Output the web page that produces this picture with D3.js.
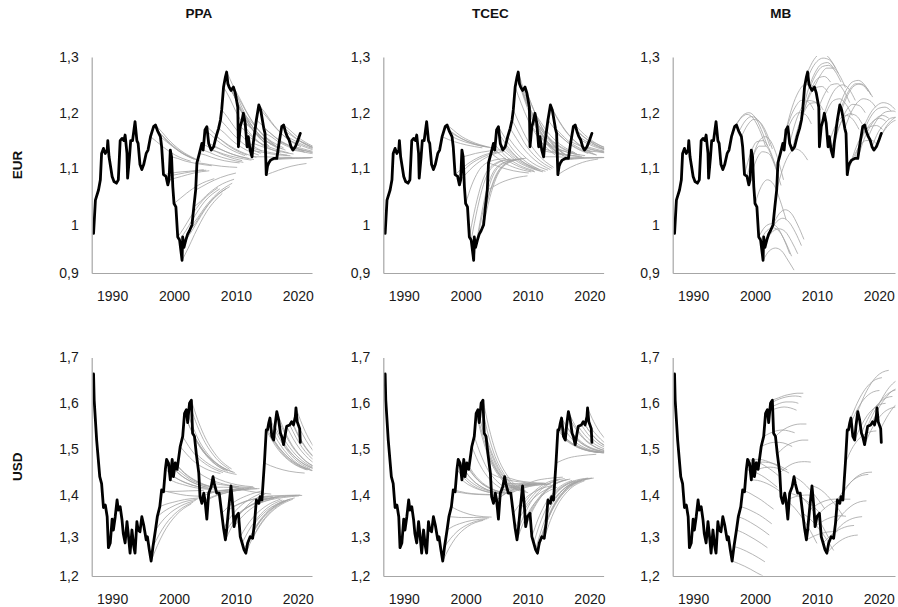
<!DOCTYPE html>
<html><head><meta charset="utf-8">
<script src="https://cdn.jsdelivr.net/npm/d3@7"></script>
<style>body{margin:0;background:#fff}svg{display:block}</style>
</head><body>
<svg id="c" width="898" height="607"></svg>
<script>
// ---------------- DATA ----------------
const columns = ["PPA", "TCEC", "MB"];
const rows = ["EUR", "USD"];
const eurTicks = [0.9, 1.0, 1.1, 1.2, 1.3];
const usdTicks = [1.2, 1.3, 1.4, 1.5, 1.6, 1.7];
const yearTicks = [1990, 2000, 2010, 2020];

// actual exchange rate [year, value]
const eurActual = [[1987.0,0.9825],[1987.3,1.044],[1987.8,1.062],[1988.1,1.08],[1988.3,1.127],[1988.6,1.136],[1988.9,1.127],[1989.2,1.133],[1989.3,1.15],[1989.5,1.121],[1990.0,1.086],[1990.3,1.077],[1990.7,1.074],[1991.0,1.08],[1991.3,1.15],[1991.6,1.154],[1991.9,1.15],[1992.1,1.16],[1992.4,1.127],[1992.5,1.083],[1992.8,1.12],[1993.0,1.15],[1993.3,1.15],[1993.7,1.184],[1994.0,1.15],[1994.2,1.145],[1994.5,1.107],[1994.8,1.098],[1995.1,1.107],[1995.5,1.127],[1995.8,1.133],[1996.2,1.157],[1996.7,1.175],[1997.0,1.178],[1997.4,1.166],[1997.8,1.157],[1998.0,1.139],[1998.3,1.089],[1998.7,1.086],[1999.0,1.071],[1999.2,1.08],[1999.4,1.133],[1999.6,1.121],[1999.8,1.068],[2000.0,1.038],[2000.3,1.032],[2000.6,0.975],[2000.9,0.9685],[2001.3,0.9265],[2001.4,0.975],[2001.6,0.9533],[2001.9,0.9685],[2002.2,0.981],[2002.5,0.988],[2002.9,1.0],[2003.2,1.032],[2003.5,1.062],[2003.7,1.11],[2004.1,1.127],[2004.5,1.145],[2004.7,1.133],[2005.0,1.169],[2005.3,1.175],[2005.6,1.145],[2006.0,1.133],[2006.4,1.139],[2006.8,1.157],[2007.2,1.172],[2007.5,1.187],[2007.7,1.205],[2008.0,1.246],[2008.3,1.264],[2008.5,1.273],[2008.7,1.252],[2008.9,1.246],[2009.2,1.24],[2009.6,1.246],[2009.9,1.235],[2010.3,1.21],[2010.4,1.139],[2010.7,1.175],[2011.0,1.187],[2011.2,1.199],[2011.5,1.181],[2011.8,1.139],[2012.0,1.157],[2012.3,1.133],[2012.6,1.121],[2012.8,1.145],[2013.3,1.187],[2013.7,1.214],[2014.0,1.205],[2014.5,1.172],[2014.7,1.163],[2014.9,1.089],[2015.1,1.104],[2015.3,1.11],[2015.6,1.115],[2016.1,1.118],[2016.6,1.118],[2017.0,1.148],[2017.4,1.175],[2017.7,1.178],[2018.0,1.166],[2018.3,1.157],[2018.6,1.151],[2018.9,1.139],[2019.2,1.133],[2019.6,1.139],[2020.0,1.15],[2020.4,1.163]];

const usdActual = [[1987.0,1.664],[1987.1,1.607],[1987.5,1.52],[1988.0,1.44],[1988.3,1.425],[1988.6,1.37],[1988.9,1.376],[1989.2,1.348],[1989.4,1.272],[1989.7,1.284],[1990.0,1.342],[1990.2,1.316],[1990.5,1.348],[1990.8,1.388],[1991.0,1.364],[1991.3,1.372],[1991.6,1.34],[1991.8,1.308],[1992.1,1.284],[1992.4,1.336],[1992.6,1.308],[1992.9,1.258],[1993.2,1.316],[1993.5,1.275],[1993.7,1.258],[1994.0,1.336],[1994.2,1.316],[1994.5,1.312],[1994.8,1.348],[1995.1,1.328],[1995.5,1.292],[1995.7,1.3],[1996.0,1.267],[1996.3,1.238],[1996.6,1.275],[1997.0,1.316],[1997.3,1.348],[1997.7,1.372],[1998.0,1.411],[1998.3,1.407],[1998.6,1.456],[1998.8,1.478],[1999.1,1.47],[1999.4,1.433],[1999.7,1.478],[1999.9,1.44],[2000.2,1.47],[2000.5,1.456],[2001.0,1.506],[2001.4,1.528],[2001.7,1.578],[2002.0,1.586],[2002.2,1.558],[2002.5,1.6],[2002.8,1.607],[2003.0,1.535],[2003.3,1.528],[2003.6,1.49],[2004.0,1.448],[2004.2,1.396],[2004.5,1.38],[2004.8,1.404],[2005.0,1.388],[2005.3,1.342],[2005.6,1.404],[2006.0,1.418],[2006.3,1.44],[2006.5,1.425],[2006.9,1.404],[2007.3,1.404],[2007.7,1.356],[2008.0,1.32],[2008.3,1.292],[2008.5,1.316],[2008.8,1.364],[2009.2,1.42],[2009.5,1.372],[2009.7,1.324],[2010.0,1.348],[2010.4,1.356],[2010.7,1.3],[2011.0,1.284],[2011.3,1.267],[2011.6,1.258],[2011.9,1.284],[2012.3,1.3],[2012.7,1.296],[2013.0,1.332],[2013.3,1.388],[2013.7,1.38],[2013.9,1.396],[2014.2,1.388],[2014.6,1.47],[2014.9,1.542],[2015.1,1.542],[2015.3,1.557],[2015.5,1.568],[2015.8,1.528],[2016.1,1.52],[2016.3,1.55],[2016.6,1.582],[2016.9,1.564],[2017.2,1.535],[2017.4,1.528],[2017.7,1.51],[2018.0,1.535],[2018.2,1.55],[2018.7,1.553],[2019.0,1.56],[2019.3,1.553],[2019.6,1.571],[2019.7,1.59],[2019.9,1.56],[2020.3,1.545],[2020.4,1.515]];

// forecast origins (year): shared by all three models
const eurOrigins = [1996.7,1997.0,1997.4,1997.8,1998.3,1998.7,1999.2,1999.6,2000.0,2000.6,2000.9,2001.3,2001.9,2002.5,2002.9,2003.5,2004.1,2004.5,2005.0,2005.6,2006.0,2006.8,2007.2,2007.7,2008.0,2008.5,2008.9,2009.6,2010.3,2010.7,2011.2,2011.8,2012.3,2012.8,2013.3,2013.7,2014.0,2014.5,2014.9,2015.6,2016.1,2016.6,2017.0,2017.7,2018.3,2018.9,2019.6,2020.0];
const usdOrigins = [1996.3,1996.6,1997.0,1997.3,1997.7,1998.0,1998.6,1998.8,1999.4,1999.7,2000.2,2000.5,2001.0,2001.4,2001.7,2002.0,2002.5,2002.8,2003.3,2003.6,2004.0,2004.5,2005.0,2005.6,2006.3,2006.9,2007.7,2008.3,2008.8,2009.2,2009.7,2010.4,2011.0,2011.6,2012.3,2013.0,2013.3,2013.9,2014.6,2015.1,2015.5,2016.1,2016.6,2017.2,2017.7,2018.2,2019.0,2019.7,2020.3];
// extra origins used by the PPA and TCEC panels (appended after the shared ones)
const eurOriginsExtra = [1996.2,2003.2,2003.7,2004.7,2005.3,2006.4,2007.5,2008.3,2008.7,2009.2,2009.9,2011.0,2011.5,2012.0,2012.6,2014.7,2017.4,2018.0,2018.6,2019.2];
const usdOriginsExtra = [1998.3,1999.1,1999.9,2002.2,2003.0,2004.2,2004.8,2006.0,2006.5,2007.3,2008.0,2008.5,2009.5,2010.0,2010.7,2011.3,2011.9,2012.7,2013.7,2014.2,2014.9,2015.3,2015.8,2016.3,2016.9,2018.7,2019.3];

// forecast horizons (years after origin)
const horizonsConv = [0, 1, 2, 4, 6.5];
const horizonsMB = [0, 1, 2, 3, 4, 5];

const ppaEur = [[1.175,1.164,1.151,1.132,1.117],[1.178,1.166,1.153,1.133,1.117],[1.166,1.156,1.145,1.128,1.115],[1.157,1.148,1.139,1.124,1.113],[1.089,1.091,1.093,1.095,1.098],[1.086,1.088,1.090,1.094,1.097],[1.08,1.083,1.086,1.092,1.096],[1.121,1.118,1.114,1.109,1.105],[1.038,1.047,1.056,1.071,1.082],[0.975,0.994,1.013,1.043,1.066],[0.9685,0.988,1.008,1.041,1.064],[0.9265,0.952,0.980,1.024,1.056],[0.9685,0.988,1.008,1.041,1.064],[0.988,1.004,1.021,1.048,1.068],[1.0,1.014,1.030,1.055,1.074],[1.062,1.068,1.074,1.084,1.092],[1.127,1.124,1.120,1.114,1.110],[1.145,1.139,1.132,1.122,1.114],[1.169,1.160,1.150,1.135,1.123],[1.145,1.140,1.134,1.125,1.118],[1.133,1.130,1.126,1.120,1.115],[1.157,1.150,1.142,1.130,1.120],[1.172,1.163,1.152,1.136,1.124],[1.205,1.191,1.175,1.150,1.131],[1.246,1.226,1.202,1.167,1.140],[1.273,1.249,1.221,1.178,1.146],[1.246,1.226,1.202,1.167,1.140],[1.246,1.226,1.204,1.170,1.144],[1.21,1.196,1.180,1.155,1.136],[1.175,1.166,1.156,1.140,1.128],[1.199,1.187,1.174,1.153,1.137],[1.139,1.136,1.133,1.128,1.124],[1.133,1.131,1.129,1.125,1.123],[1.145,1.141,1.137,1.131,1.126],[1.187,1.177,1.166,1.148,1.135],[1.214,1.200,1.184,1.159,1.141],[1.205,1.192,1.178,1.156,1.139],[1.172,1.164,1.155,1.142,1.131],[1.089,1.093,1.097,1.104,1.109],[1.115,1.116,1.117,1.118,1.119],[1.118,1.118,1.119,1.119,1.120],[1.118,1.118,1.119,1.119,1.120],[1.148,1.144,1.139,1.132,1.126],[1.178,1.169,1.159,1.144,1.133],[1.157,1.151,1.145,1.136,1.128],[1.139,1.136,1.133,1.128,1.124],[1.139,1.136,1.133,1.128,1.124],[1.15,1.146,1.140,1.133,1.127],
  [1.157,1.148,1.139,1.124,1.113],[1.032,1.041,1.052,1.069,1.081],[1.11,1.109,1.107,1.104,1.102],[1.133,1.129,1.124,1.117,1.111],[1.175,1.165,1.154,1.137,1.124],[1.139,1.135,1.130,1.122,1.116],[1.187,1.175,1.162,1.142,1.127],[1.264,1.241,1.215,1.175,1.144],[1.252,1.231,1.207,1.17,1.141],[1.24,1.221,1.2,1.168,1.143],[1.235,1.217,1.197,1.165,1.141],[1.187,1.177,1.166,1.148,1.135],[1.181,1.172,1.161,1.146,1.133],[1.157,1.151,1.145,1.136,1.128],[1.121,1.121,1.121,1.120,1.120],[1.163,1.157,1.149,1.138,1.129],[1.175,1.167,1.157,1.143,1.132],[1.166,1.159,1.151,1.139,1.13],[1.151,1.146,1.141,1.133,1.127],[1.133,1.131,1.129,1.125,1.123]];

const tcecEur = [[1.175,1.166,1.158,1.147,1.139],[1.178,1.169,1.160,1.148,1.139],[1.166,1.159,1.153,1.144,1.138],[1.157,1.152,1.148,1.142,1.137],[1.089,1.099,1.108,1.121,1.130],[1.086,1.097,1.107,1.120,1.130],[1.08,1.092,1.103,1.119,1.130],[1.121,1.124,1.127,1.131,1.134],[1.038,1.071,1.094,1.113,1.118],[0.975,1.033,1.074,1.108,1.117],[0.9685,1.029,1.072,1.108,1.117],[0.9265,1.004,1.058,1.105,1.116],[0.9685,1.029,1.072,1.108,1.117],[0.988,1.041,1.078,1.109,1.117],[1.0,1.048,1.082,1.11,1.118],[1.062,1.068,1.074,1.082,1.087],[1.127,1.119,1.111,1.101,1.094],[1.145,1.133,1.122,1.107,1.096],[1.169,1.152,1.136,1.114,1.098],[1.145,1.133,1.122,1.107,1.096],[1.133,1.124,1.115,1.103,1.094],[1.157,1.142,1.129,1.110,1.097],[1.172,1.154,1.138,1.115,1.098],[1.205,1.180,1.157,1.125,1.102],[1.246,1.216,1.189,1.151,1.124],[1.273,1.237,1.205,1.159,1.126],[1.246,1.216,1.189,1.151,1.124],[1.246,1.216,1.189,1.151,1.124],[1.21,1.188,1.168,1.140,1.120],[1.175,1.161,1.148,1.130,1.117],[1.199,1.182,1.166,1.144,1.128],[1.139,1.135,1.131,1.126,1.122],[1.133,1.130,1.128,1.124,1.121],[1.145,1.140,1.135,1.128,1.123],[1.187,1.172,1.159,1.140,1.127],[1.214,1.193,1.175,1.148,1.129],[1.205,1.186,1.169,1.146,1.129],[1.172,1.161,1.150,1.136,1.125],[1.089,1.096,1.102,1.111,1.117],[1.115,1.116,1.117,1.119,1.120],[1.118,1.118,1.119,1.119,1.120],[1.118,1.118,1.119,1.119,1.120],[1.148,1.143,1.138,1.132,1.127],[1.178,1.166,1.156,1.141,1.130],[1.157,1.150,1.144,1.135,1.128],[1.139,1.136,1.133,1.129,1.126],[1.139,1.136,1.133,1.129,1.126],[1.15,1.145,1.140,1.133,1.128],
  [1.157,1.152,1.148,1.142,1.137],[1.032,1.067,1.092,1.113,1.118],[1.11,1.106,1.102,1.096,1.092],[1.133,1.124,1.115,1.103,1.094],[1.175,1.156,1.139,1.116,1.099],[1.139,1.128,1.118,1.105,1.095],[1.187,1.166,1.146,1.119,1.1],[1.264,1.230,1.199,1.156,1.125],[1.252,1.221,1.192,1.153,1.124],[1.24,1.211,1.185,1.149,1.123],[1.235,1.208,1.183,1.148,1.123],[1.187,1.172,1.159,1.14,1.127],[1.181,1.168,1.155,1.138,1.126],[1.157,1.149,1.141,1.131,1.124],[1.121,1.121,1.121,1.12,1.12],[1.163,1.154,1.145,1.133,1.124],[1.175,1.164,1.154,1.14,1.13],[1.166,1.157,1.149,1.137,1.129],[1.151,1.145,1.14,1.133,1.128],[1.133,1.131,1.13,1.127,1.126]];

const mbEur = [[1.175,1.19,1.197,1.19,1.17,1.14],[1.178,1.195,1.2,1.192,1.17,1.14],[1.166,1.185,1.193,1.188,1.17,1.14],[1.157,1.178,1.188,1.183,1.165,1.135],[1.089,1.128,1.148,1.15,1.135,1.105],[1.086,1.122,1.14,1.14,1.122,1.09],[1.08,1.115,1.13,1.127,1.105,1.07],[1.121,1.148,1.157,1.148,1.12,1.08],[1.038,1.068,1.08,1.072,1.045,1.01],[0.975,0.996,1.002,0.995,0.972,0.94],[0.9685,0.988,0.994,0.987,0.965,0.935],[0.9265,0.946,0.952,0.946,0.927,0.906],[0.9685,0.987,0.992,0.986,0.966,0.94],[0.988,1.006,1.012,1.005,0.985,0.957],[1.0,1.02,1.027,1.02,1.0,0.97],[1.062,1.1,1.125,1.135,1.13,1.115],[1.127,1.165,1.19,1.2,1.197,1.18],[1.145,1.185,1.21,1.222,1.22,1.205],[1.169,1.21,1.237,1.25,1.25,1.237],[1.145,1.185,1.21,1.222,1.22,1.205],[1.133,1.175,1.203,1.217,1.218,1.205],[1.157,1.2,1.23,1.245,1.247,1.236],[1.172,1.215,1.245,1.262,1.265,1.255],[1.205,1.245,1.272,1.287,1.29,1.28],[1.246,1.275,1.292,1.298,1.295,1.28],[1.273,1.295,1.305,1.303,1.29,1.27],[1.246,1.27,1.283,1.285,1.275,1.255],[1.246,1.268,1.28,1.28,1.268,1.245],[1.21,1.235,1.25,1.252,1.24,1.218],[1.175,1.205,1.222,1.225,1.215,1.195],[1.199,1.228,1.245,1.25,1.242,1.222],[1.139,1.172,1.19,1.195,1.188,1.17],[1.133,1.168,1.19,1.198,1.195,1.18],[1.145,1.18,1.205,1.215,1.213,1.2],[1.187,1.22,1.242,1.252,1.25,1.238],[1.214,1.24,1.255,1.258,1.25,1.232],[1.205,1.232,1.248,1.252,1.245,1.228],[1.172,1.2,1.218,1.225,1.222,1.21],[1.089,1.12,1.14,1.15,1.15,1.14],[1.115,1.145,1.165,1.175,1.177,1.17],[1.118,1.15,1.172,1.185,1.19,1.185],[1.118,1.152,1.175,1.19,1.195,1.19],[1.148,1.178,1.198,1.208,1.21,1.203],[1.178,1.2,1.213,1.218,1.215,1.205],[1.157,1.18,1.195,1.202,1.203,1.197],[1.139,1.165,1.18,1.19,1.192,1.188],[1.139,1.163,1.178,1.186,1.188,1.185],[1.15,1.172,1.186,1.193,1.195,1.19]];

const ppaUsd = [[1.238,1.277,1.309,1.351,1.379],[1.275,1.305,1.329,1.361,1.383],[1.316,1.336,1.352,1.373,1.387],[1.348,1.36,1.369,1.382,1.39],[1.372,1.378,1.382,1.389,1.393],[1.411,1.407,1.404,1.399,1.397],[1.456,1.445,1.435,1.423,1.415],[1.478,1.461,1.447,1.429,1.417],[1.433,1.427,1.423,1.416,1.412],[1.478,1.461,1.447,1.429,1.417],[1.47,1.455,1.443,1.427,1.416],[1.456,1.445,1.435,1.423,1.415],[1.506,1.49,1.476,1.458,1.447],[1.528,1.506,1.488,1.465,1.449],[1.578,1.544,1.516,1.479,1.454],[1.586,1.55,1.52,1.481,1.455],[1.6,1.56,1.528,1.485,1.456],[1.607,1.565,1.532,1.487,1.457],[1.528,1.506,1.488,1.465,1.449],[1.49,1.478,1.468,1.454,1.445],[1.448,1.44,1.433,1.424,1.418],[1.38,1.389,1.396,1.405,1.412],[1.388,1.395,1.4,1.407,1.412],[1.404,1.407,1.409,1.412,1.414],[1.44,1.434,1.429,1.422,1.418],[1.404,1.407,1.409,1.412,1.414],[1.356,1.371,1.383,1.398,1.409],[1.292,1.323,1.347,1.381,1.403],[1.364,1.373,1.38,1.39,1.396],[1.42,1.415,1.411,1.406,1.402],[1.324,1.343,1.358,1.379,1.392],[1.356,1.367,1.376,1.388,1.396],[1.284,1.313,1.336,1.368,1.388],[1.258,1.294,1.322,1.36,1.386],[1.3,1.325,1.345,1.372,1.39],[1.332,1.349,1.363,1.381,1.393],[1.388,1.391,1.393,1.397,1.399],[1.396,1.397,1.398,1.399,1.4],[1.47,1.464,1.459,1.452,1.448],[1.542,1.518,1.498,1.472,1.455],[1.568,1.537,1.513,1.479,1.457],[1.52,1.501,1.486,1.466,1.453],[1.582,1.548,1.52,1.483,1.459],[1.535,1.513,1.495,1.47,1.454],[1.51,1.494,1.481,1.463,1.452],[1.55,1.524,1.503,1.474,1.456],[1.56,1.531,1.508,1.477,1.457],[1.59,1.554,1.525,1.486,1.46],[1.545,1.52,1.5,1.473,1.455],
  [1.407,1.408,1.408,1.409,1.41],[1.47,1.455,1.443,1.427,1.416],[1.44,1.433,1.427,1.418,1.413],[1.558,1.529,1.505,1.473,1.452],[1.535,1.511,1.492,1.467,1.45],[1.396,1.401,1.405,1.41,1.413],[1.404,1.407,1.409,1.412,1.414],[1.418,1.417,1.417,1.416,1.415],[1.425,1.423,1.421,1.418,1.416],[1.404,1.407,1.409,1.412,1.414],[1.32,1.344,1.363,1.388,1.406],[1.316,1.337,1.354,1.376,1.392],[1.372,1.379,1.385,1.392,1.397],[1.348,1.361,1.371,1.385,1.395],[1.3,1.325,1.345,1.372,1.39],[1.267,1.3,1.327,1.363,1.387],[1.284,1.313,1.336,1.368,1.388],[1.296,1.322,1.343,1.371,1.39],[1.38,1.385,1.389,1.394,1.398],[1.388,1.391,1.393,1.397,1.399],[1.542,1.518,1.498,1.472,1.455],[1.557,1.529,1.507,1.476,1.456],[1.528,1.507,1.491,1.468,1.453],[1.55,1.524,1.503,1.474,1.456],[1.564,1.534,1.51,1.478,1.457],[1.553,1.526,1.504,1.475,1.456],[1.553,1.526,1.504,1.475,1.456]];

const tcecUsd = [[1.238,1.27,1.295,1.324,1.339],[1.275,1.296,1.312,1.331,1.341],[1.316,1.325,1.331,1.339,1.343],[1.348,1.347,1.346,1.346,1.345],[1.372,1.364,1.358,1.35,1.347],[1.411,1.408,1.405,1.402,1.401],[1.456,1.439,1.426,1.411,1.403],[1.478,1.455,1.437,1.416,1.405],[1.433,1.423,1.416,1.407,1.402],[1.478,1.455,1.437,1.416,1.405],[1.47,1.449,1.433,1.414,1.404],[1.456,1.439,1.426,1.411,1.403],[1.506,1.474,1.45,1.421,1.406],[1.528,1.49,1.46,1.426,1.408],[1.578,1.525,1.484,1.436,1.411],[1.586,1.53,1.487,1.437,1.411],[1.6,1.54,1.494,1.44,1.412],[1.607,1.545,1.497,1.441,1.412],[1.528,1.49,1.46,1.426,1.408],[1.49,1.463,1.442,1.418,1.405],[1.448,1.441,1.436,1.43,1.426],[1.38,1.394,1.404,1.416,1.422],[1.388,1.399,1.408,1.418,1.423],[1.404,1.41,1.415,1.421,1.424],[1.44,1.436,1.432,1.428,1.426],[1.404,1.41,1.415,1.421,1.424],[1.356,1.377,1.393,1.411,1.421],[1.292,1.332,1.362,1.398,1.417],[1.364,1.387,1.404,1.425,1.435],[1.42,1.426,1.431,1.436,1.439],[1.324,1.359,1.385,1.417,1.433],[1.356,1.381,1.401,1.423,1.435],[1.284,1.331,1.367,1.409,1.431],[1.258,1.313,1.354,1.404,1.429],[1.3,1.342,1.374,1.412,1.432],[1.332,1.364,1.389,1.418,1.434],[1.388,1.404,1.416,1.43,1.437],[1.396,1.409,1.419,1.431,1.437],[1.47,1.476,1.481,1.486,1.489],[1.542,1.526,1.514,1.5,1.493],[1.568,1.545,1.527,1.506,1.495],[1.52,1.511,1.504,1.496,1.492],[1.582,1.554,1.533,1.508,1.496],[1.535,1.522,1.511,1.499,1.493],[1.51,1.504,1.499,1.494,1.491],[1.55,1.532,1.518,1.502,1.494],[1.56,1.539,1.523,1.504,1.494],[1.59,1.56,1.537,1.51,1.496],[1.545,1.529,1.516,1.501,1.493],
  [1.407,1.405,1.403,1.401,1.4],[1.47,1.449,1.433,1.414,1.404],[1.44,1.428,1.419,1.408,1.402],[1.558,1.511,1.474,1.432,1.409],[1.535,1.495,1.463,1.427,1.408],[1.396,1.405,1.411,1.419,1.423],[1.404,1.41,1.415,1.421,1.424],[1.418,1.42,1.422,1.424,1.425],[1.425,1.425,1.425,1.425,1.425],[1.404,1.41,1.415,1.421,1.424],[1.32,1.352,1.376,1.404,1.419],[1.316,1.353,1.382,1.415,1.433],[1.372,1.392,1.408,1.426,1.436],[1.348,1.376,1.397,1.422,1.434],[1.3,1.342,1.374,1.412,1.432],[1.267,1.319,1.359,1.405,1.43],[1.284,1.331,1.367,1.409,1.431],[1.296,1.339,1.372,1.411,1.431],[1.38,1.398,1.412,1.428,1.436],[1.388,1.404,1.416,1.43,1.437],[1.542,1.526,1.514,1.5,1.493],[1.557,1.537,1.521,1.503,1.494],[1.528,1.517,1.508,1.498,1.492],[1.55,1.532,1.518,1.502,1.494],[1.564,1.542,1.525,1.505,1.494],[1.553,1.534,1.52,1.503,1.494],[1.553,1.534,1.52,1.503,1.494]];

const mbUsd = [[1.238,1.232,1.225,1.217,1.208,1.2],[1.275,1.27,1.263,1.255,1.246,1.236],[1.316,1.31,1.302,1.293,1.283,1.272],[1.348,1.342,1.334,1.325,1.315,1.304],[1.372,1.367,1.36,1.352,1.342,1.331],[1.411,1.405,1.397,1.388,1.377,1.366],[1.456,1.452,1.446,1.438,1.428,1.417],[1.478,1.475,1.47,1.462,1.453,1.442],[1.433,1.432,1.428,1.422,1.414,1.404],[1.478,1.478,1.475,1.47,1.463,1.454],[1.47,1.472,1.471,1.468,1.462,1.455],[1.456,1.46,1.461,1.459,1.455,1.448],[1.506,1.512,1.515,1.515,1.512,1.506],[1.528,1.535,1.54,1.542,1.54,1.536],[1.578,1.585,1.59,1.592,1.59,1.585],[1.586,1.594,1.6,1.603,1.603,1.6],[1.6,1.607,1.612,1.615,1.616,1.614],[1.607,1.612,1.617,1.62,1.622,1.622],[1.528,1.54,1.548,1.553,1.555,1.555],[1.49,1.503,1.512,1.517,1.52,1.52],[1.448,1.46,1.468,1.472,1.473,1.472],[1.38,1.39,1.396,1.399,1.4,1.398],[1.388,1.375,1.358,1.337,1.312,1.283],[1.404,1.4,1.393,1.383,1.37,1.355],[1.44,1.432,1.42,1.405,1.387,1.366],[1.404,1.39,1.372,1.35,1.325,1.297],[1.356,1.345,1.33,1.312,1.29,1.265],[1.292,1.3,1.306,1.31,1.312,1.312],[1.364,1.375,1.383,1.388,1.39,1.39],[1.42,1.415,1.405,1.39,1.372,1.35],[1.324,1.335,1.343,1.348,1.35,1.349],[1.356,1.37,1.38,1.387,1.39,1.39],[1.284,1.3,1.312,1.32,1.325,1.327],[1.258,1.275,1.288,1.297,1.302,1.304],[1.3,1.318,1.332,1.341,1.346,1.348],[1.332,1.352,1.367,1.378,1.384,1.386],[1.388,1.41,1.426,1.437,1.443,1.445],[1.396,1.418,1.434,1.444,1.449,1.45],[1.47,1.5,1.52,1.532,1.538,1.54],[1.542,1.575,1.6,1.616,1.625,1.628],[1.568,1.6,1.625,1.642,1.652,1.656],[1.52,1.55,1.573,1.588,1.597,1.6],[1.582,1.615,1.64,1.658,1.668,1.672],[1.535,1.565,1.588,1.603,1.612,1.615],[1.51,1.54,1.563,1.579,1.588,1.592],[1.55,1.58,1.603,1.618,1.627,1.63],[1.56,1.59,1.61,1.625,1.633,1.636],[1.59,1.615,1.635,1.648,1.655,1.658],[1.545,1.57,1.59,1.603,1.61,1.612]];

// ---------------- LAYOUT ----------------
const svg = d3.select("#c");
const colX = [91.7, 383.3, 672.7];
const colW = [220.3, 220.3, 222.3];
const pxPerYear = 6.19;
const yearStart = 1986.7;
// pixel rows of the tick values, as measured on the reference (piecewise)
const rowTickPx = [[273, 225, 168.5, 112.7, 57], [576, 536.7, 495, 449.3, 403.3, 357.5]];
const rowTicks = [eurTicks, usdTicks];
const rowActual = [eurActual, usdActual];
const rowOrigins = [[eurOrigins.concat(eurOriginsExtra), eurOrigins.concat(eurOriginsExtra), eurOrigins],
                    [usdOrigins.concat(usdOriginsExtra), usdOrigins.concat(usdOriginsExtra), usdOrigins]];
const panelPaths = [[ppaEur, tcecEur, mbEur], [ppaUsd, tcecUsd, mbUsd]];
const panelHorizons = [horizonsConv, horizonsConv, horizonsMB];

const fmt = d3.formatLocale({decimal: ",", thousands: ".", grouping: [3], currency: ["", ""]}).format("~g");
const fontFam = "'Liberation Sans', Arial, sans-serif";
const boldFam = "'Liberation Sans Narrow', 'Arial Narrow', 'Liberation Sans', sans-serif";

columns.forEach((c, ci) => {
  svg.append("text")
    .attr("x", colX[ci] + colW[ci] / 2 - 3)
    .attr("y", 18)
    .attr("text-anchor", "middle")
    .attr("font-family", boldFam)
    .attr("font-weight", "bold")
    .attr("font-size", 13.5)
    .attr("fill", "#111")
    .text(c);
});
rows.forEach((r, ri) => {
  const px = rowTickPx[ri];
  const cy = (px[0] + px[px.length - 1]) / 2;
  svg.append("text")
    .attr("transform", `translate(22,${cy}) rotate(-90)`)
    .attr("text-anchor", "middle")
    .attr("font-family", boldFam)
    .attr("font-weight", "bold")
    .attr("font-size", 13.5)
    .attr("fill", "#111")
    .text(r);
});

rows.forEach((r, ri) => {
  columns.forEach((c, ci) => {
    const x = d3.scaleLinear()
      .domain([yearStart, yearStart + colW[ci] / pxPerYear])
      .range([colX[ci], colX[ci] + colW[ci]]);
    const ticks = rowTicks[ri];
    const px = rowTickPx[ri];
    const y = d3.scaleLinear().domain(ticks).range(px);
    const top = px[px.length - 1], bottom = px[0];

    const id = `clip-${ri}-${ci}`;
    svg.append("clipPath").attr("id", id)
      .append("rect")
      .attr("x", colX[ci] + 0.5).attr("y", top - 1)
      .attr("width", colW[ci]).attr("height", bottom - top + 0.5);

    const g = svg.append("g");
    const plot = g.append("g").attr("clip-path", `url(#${id})`);

    const line = d3.line().x(d => x(d[0])).y(d => y(d[1]));
    const smooth = d3.line().x(d => x(d[0])).y(d => y(d[1])).curve(d3.curveMonotoneX);

    const origins = rowOrigins[ri][ci];
    const paths = panelPaths[ri][ci];
    const hz = panelHorizons[ci];
    const fc = paths.map((vals, k) => vals.map((v, j) => [origins[k] + hz[j], v]));

    plot.selectAll("path.fc").data(fc).join("path")
      .attr("class", "fc")
      .attr("d", smooth)
      .attr("fill", "none")
      .attr("stroke", "#a3a3a3")
      .attr("stroke-width", 0.8);

    plot.append("path")
      .datum(rowActual[ri])
      .attr("d", line)
      .attr("fill", "none")
      .attr("stroke", "#000")
      .attr("stroke-width", 2.8)
      .attr("stroke-linejoin", "round")
      .attr("stroke-linecap", "round");

    const ya = d3.axisLeft(y).tickValues(ticks).tickSize(0).tickSizeOuter(0).tickPadding(13).tickFormat(fmt);
    const xa = d3.axisBottom(x).tickValues(yearTicks).tickSize(0).tickSizeOuter(0).tickPadding(18).tickFormat(d3.format("d"));
    const gy = g.append("g").attr("transform", `translate(${colX[ci]},0)`).call(ya);
    const gx = g.append("g").attr("transform", `translate(0,${bottom})`).call(xa);
    [gx, gy].forEach(a => {
      a.select(".domain").attr("stroke", "#a6a6a6").attr("stroke-width", 1.2);
      a.selectAll("text").attr("font-family", fontFam).attr("font-size", 14).attr("fill", "#1a1a1a");
    });
  });
});
</script>
</body></html>
